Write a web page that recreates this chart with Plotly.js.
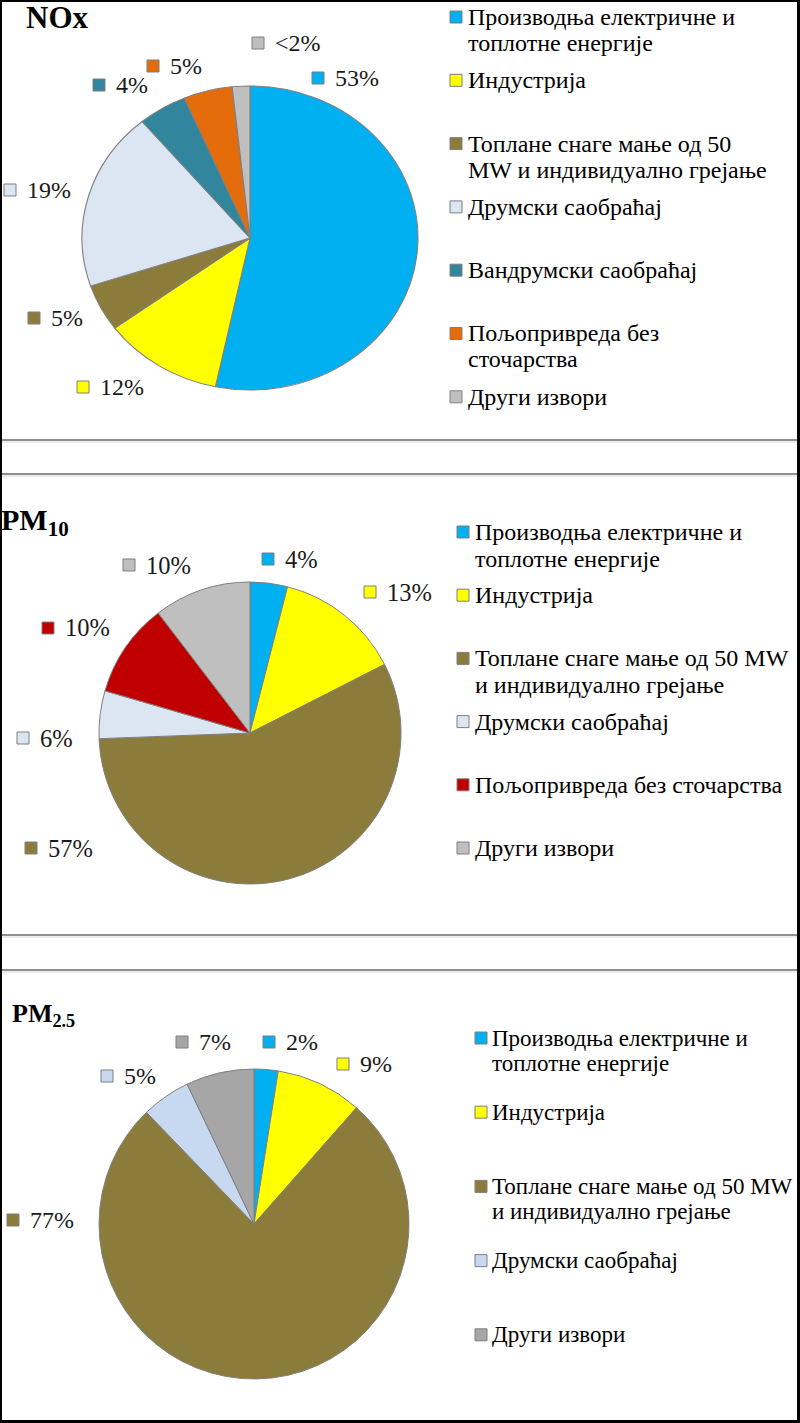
<!DOCTYPE html>
<html>
<head>
<meta charset="utf-8">
<script src="https://cdn.plot.ly/plotly-3.0.1.min.js"></script>
<style>
html, body { margin: 0; padding: 0; background: #ffffff; }
#chart { width: 800px; height: 1423px; }
</style>
</head>
<body>
<div id="chart"></div>
<script>
// ---------- DATA ----------
const noxCategories = [
  'Производња електричне и<br>топлотне енергије',
  'Индустрија',
  'Топлане снаге мање од 50<br>MW и индивидуално грејање',
  'Друмски саобраћај',
  'Вандрумски саобраћај',
  'Пољопривреда без<br>сточарства',
  'Други извори'
];
const noxValues = [53.3, 11.6, 5.0, 19.0, 4.7, 4.7, 1.7];
const noxPercentLabels = ['53%', '12%', '5%', '19%', '4%', '5%', '<2%'];

const pm10Categories = [
  'Производња електричне и<br>топлотне енергије',
  'Индустрија',
  'Топлане снаге мање од 50 MW<br>и индивидуално грејање',
  'Друмски саобраћај',
  'Пољопривреда без сточарства',
  'Други извори'
];
const pm10Values = [4.0, 13.5, 56.9, 5.1, 10.1, 10.4];
const pm10PercentLabels = ['4%', '13%', '57%', '6%', '10%', '10%'];

const pm25Categories = [
  'Производња електричне и<br>топлотне енергије',
  'Индустрија',
  'Топлане снаге мање од 50 MW<br>и индивидуално грејање',
  'Друмски саобраћај',
  'Други извори'
];
const pm25Values = [2.5, 9.0, 76.3, 5.1, 7.1];
const pm25PercentLabels = ['2%', '9%', '77%', '5%', '7%'];

// ---------- STYLE / LAYOUT ----------
const noxColors = ['#00B0F0', '#FFFF00', '#8C7C3C', '#DCE6F2', '#31859C', '#E46C0A', '#BFBFBF'];
const pm10Colors = ['#00B0F0', '#FFFF00', '#8C7C3C', '#DCE6F2', '#C00000', '#BFBFBF'];
const pm25Colors = ['#00B0F0', '#FFFF00', '#8C7C3C', '#C6D9F1', '#A6A6A6'];

const W = 800, H = 1423;
const FONT = 'Liberation Serif, Times New Roman, Times, serif';
const px = x => x / W;
const py = y => 1 - y / H;
const esc = s => s.replace(/&/g, '&amp;').replace(/</g, '&lt;').replace(/>/g, '&gt;');

const panels = [
  {
    title: '<b>NOx</b>', titleX: 26, titleTop: 0, titleSize: 31,
    cats: noxCategories, vals: noxValues, pct: noxPercentLabels, colors: noxColors,
    cx: 250, cy: 238, r: 152, sx: 1.105,
    labelPos: [[312, 78], [77, 387], [28, 318], [4, 190], [93, 85], [147, 66], [252, 43]],
    labelSize: 24,
    leg: { sqX: 450, textX: 468, y0: 17, step: 63.3, line: 26, size: 24 }
  },
  {
    title: '<b>PM<sub>10</sub></b>', titleX: 1, titleTop: 503, titleSize: 30,
    cats: pm10Categories, vals: pm10Values, pct: pm10PercentLabels, colors: pm10Colors,
    cx: 250, cy: 733, r: 151, sx: 1,
    labelPos: [[262, 559], [364, 592], [25, 848], [17, 738], [42, 628], [123, 565]],
    labelSize: 24.5,
    leg: { sqX: 457, textX: 475, y0: 532, step: 63.2, line: 27, size: 24 }
  },
  {
    title: '<b>PM<sub>2.5</sub></b>', titleX: 12, titleTop: 999, titleSize: 26,
    cats: pm25Categories, vals: pm25Values, pct: pm25PercentLabels, colors: pm25Colors,
    cx: 254, cy: 1224, r: 155, sx: 1,
    labelPos: [[263, 1042], [337, 1064], [7, 1220], [101, 1076], [176, 1042]],
    labelSize: 24,
    leg: { sqX: 475, textX: 492, y0: 1038, step: 74.2, line: 25, size: 23 }
  }
];

const data = [];
const shapes = [];
const annotations = [];
const SQ = 12;
const squareLine = { color: '#7F7F7F', width: 1 };

function square(x, yc, color) {
  shapes.push({
    type: 'rect', xref: 'paper', yref: 'paper', layer: 'above',
    x0: px(x), x1: px(x + SQ), y0: py(yc + SQ / 2), y1: py(yc - SQ / 2),
    fillcolor: color, line: squareLine
  });
}

panels.forEach(p => {
  data.push({
    type: 'pie',
    labels: p.cats,
    values: p.vals,
    sort: false,
    direction: 'clockwise',
    rotation: 0,
    textinfo: 'none',
    hoverinfo: 'label+percent',
    showlegend: false,
    marker: { colors: p.colors, line: { color: '#7F7F7F', width: 1 } },
    domain: { x: [px(p.cx - p.r), px(p.cx + p.r)], y: [py(p.cy + p.r), py(p.cy - p.r)] }
  });

  // title
  annotations.push({
    xref: 'paper', yref: 'paper', x: px(p.titleX), y: py(p.titleTop),
    xanchor: 'left', yanchor: 'top', showarrow: false, borderpad: 0, borderwidth: 0,
    text: p.title, font: { family: FONT, size: p.titleSize, color: '#000000' }
  });

  // data labels
  p.pct.forEach((t, i) => {
    const [sx, sy] = p.labelPos[i];
    square(sx, sy, p.colors[i]);
    annotations.push({
      xref: 'paper', yref: 'paper', x: px(sx + 23), y: py(sy),
      xanchor: 'left', yanchor: 'middle', showarrow: false, borderpad: 0, borderwidth: 0,
      text: esc(t), font: { family: FONT, size: p.labelSize, color: '#1a1a1a' }
    });
  });

  // legend
  p.cats.forEach((c, i) => {
    const yc = p.leg.y0 + i * p.leg.step;
    square(p.leg.sqX, yc, p.colors[i]);
    c.split('<br>').forEach((line, k) => {
      annotations.push({
        xref: 'paper', yref: 'paper', x: px(p.leg.textX), y: py(yc + k * p.leg.line),
        xanchor: 'left', yanchor: 'middle', showarrow: false, borderpad: 0, borderwidth: 0,
        text: line, font: { family: FONT, size: p.leg.size, color: '#000000' }
      });
    });
  });
});

// separators
[440, 474, 935, 970].forEach(y => {
  shapes.push({ type: 'line', xref: 'paper', yref: 'paper', layer: 'above',
    x0: px(2), x1: px(797), y0: py(y), y1: py(y), line: { color: '#8F8F8F', width: 2 } });
  shapes.push({ type: 'line', xref: 'paper', yref: 'paper', layer: 'above',
    x0: px(2), x1: px(797), y0: py(y + 2), y1: py(y + 2), line: { color: '#DADADA', width: 1 } });
});

// outer frame
[[0, 0, 2, H], [797, 0, W, H], [0, 0, W, 2], [0, 1420, W, H]].forEach(([x0, y0, x1, y1]) => {
  shapes.push({ type: 'rect', xref: 'paper', yref: 'paper', layer: 'above',
    x0: px(x0), x1: px(x1), y0: py(y1), y1: py(y0), fillcolor: '#000000', line: { width: 0 } });
});

const layout = {
  width: W, height: H,
  margin: { l: 0, r: 0, t: 0, b: 0, pad: 0 },
  paper_bgcolor: '#ffffff',
  plot_bgcolor: '#ffffff',
  showlegend: false,
  font: { family: FONT, color: '#000000' },
  shapes: shapes,
  annotations: annotations
};

const gd = document.getElementById('chart');
Plotly.newPlot(gd, data, layout, { staticPlot: true, displayModeBar: false }).then(() => {
  // the NOx pie in the original is slightly stretched horizontally
  const traces = gd.querySelectorAll('.pielayer .trace');
  panels.forEach((p, i) => {
    if (p.sx !== 1 && traces[i]) {
      traces[i].setAttribute('transform',
        `translate(${p.cx},${p.cy}) scale(${p.sx},1) translate(${-p.cx},${-p.cy})`);
    }
  });
});
</script>
</body>
</html>
